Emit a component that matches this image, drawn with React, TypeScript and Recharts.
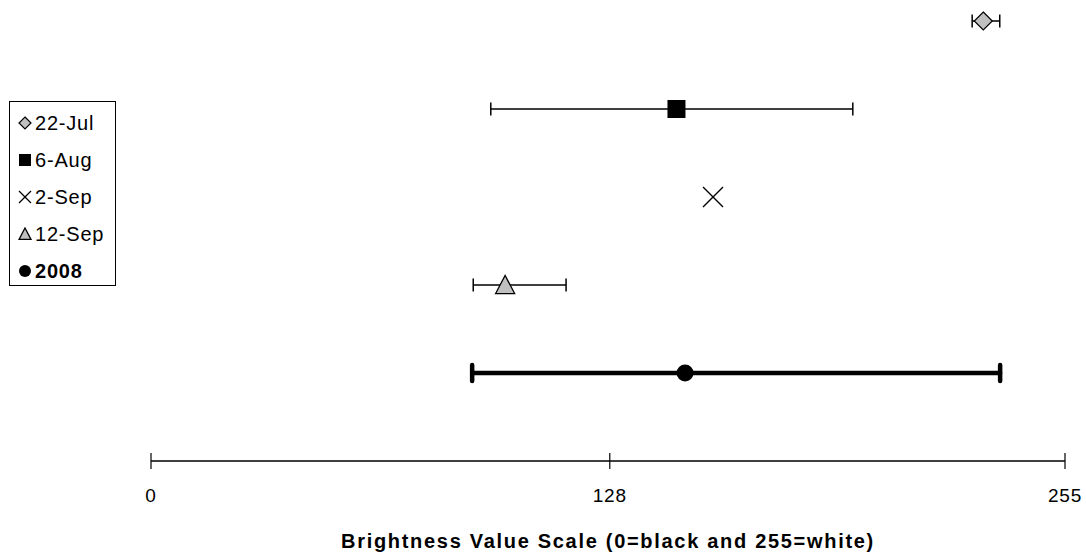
import React from "react";
import { ScatterChart, Scatter, XAxis, YAxis, ErrorBar } from "recharts";

// Brightness readings per sampling date (0 = black, 255 = white)
const seriesNames = ["22-Jul", "6-Aug", "2-Sep", "12-Sep", "2008"];
const rowPos = [5, 4, 3, 2, 1];
const means = [232.2, 146.6, 156.8, 98.8, 149.0];
const lows = [229.1, 94.8, null, 89.9, 89.6];
const highs = [236.8, 195.8, null, 115.8, 236.9];
const xTicks = [0, 128, 255];
const axisTitle = "Brightness Value Scale (0=black and 255=white)";

const FONT = "'Liberation Sans', Arial, sans-serif";

type Marker = "diamond" | "square" | "cross" | "triangle" | "circle";
const markers: Marker[] = ["diamond", "square", "cross", "triangle", "circle"];

function drawMarker(kind: Marker, cx: number, cy: number, s: number) {
  const h = s / 2;
  switch (kind) {
    case "diamond":
      return (
        <polygon
          points={`${cx},${cy - h} ${cx + h},${cy} ${cx},${cy + h} ${cx - h},${cy}`}
          fill="#c0c0c0"
          stroke="#000"
          strokeWidth={1.2}
        />
      );
    case "square":
      return <rect x={cx - h} y={cy - h} width={s} height={s} fill="#000" />;
    case "cross":
      return (
        <g stroke="#000" strokeWidth={1.3}>
          <line x1={cx - h} y1={cy - h} x2={cx + h} y2={cy + h} />
          <line x1={cx - h} y1={cy + h} x2={cx + h} y2={cy - h} />
        </g>
      );
    case "triangle":
      return (
        <polygon
          points={`${cx},${cy - h} ${cx + h},${cy + h * 0.9} ${cx - h},${cy + h * 0.9}`}
          fill="#c0c0c0"
          stroke="#000"
          strokeWidth={1.3}
        />
      );
    default:
      return <circle cx={cx} cy={cy} r={h} fill="#000" />;
  }
}

const sizes = [18, 18, 20, 19, 17];

const seriesData = seriesNames.map((name, i) => [
  {
    x: means[i],
    y: rowPos[i],
    err:
      lows[i] == null
        ? null
        : [means[i] - (lows[i] as number), (highs[i] as number) - means[i]],
  },
]);

const AxisTick = (props: any) => {
  const { x, y, payload } = props;
  return (
    <g>
      <line x1={x} y1={y - 8} x2={x} y2={y + 8} stroke="#000" strokeWidth={1.2} />
      <text
        x={x}
        y={y + 41}
        textAnchor="middle"
        fontFamily={FONT}
        fontSize={19}
        letterSpacing={0.8}
        fill="#000"
      >
        {payload.value}
      </text>
    </g>
  );
};

const AxisTitle = (props: any) => {
  const { viewBox } = props;
  return (
    <text
      x={viewBox.x + viewBox.width / 2}
      y={viewBox.y + 87}
      textAnchor="middle"
      fontFamily={FONT}
      fontSize={20}
      fontWeight="bold"
      letterSpacing={1.7}
      fill="#000"
    >
      {axisTitle}
    </text>
  );
};

function LegendBox() {
  return (
    <div
      style={{
        position: "absolute",
        left: 9,
        top: 101,
        width: 107,
        height: 185,
        border: "1px solid #000",
        background: "#fff",
        fontFamily: FONT,
        fontSize: 20,
        letterSpacing: 0.8,
        boxSizing: "border-box",
      }}
    >
      {seriesNames.map((name, i) => (
        <div
          key={name}
          style={{
            position: "absolute",
            left: 8,
            top: 9 + i * 37,
            display: "flex",
            alignItems: "center",
            height: 24,
            fontWeight: i === 4 ? "bold" : "normal",
          }}
        >
          <svg width={15} height={14} style={{ marginRight: 2 }}>
            {drawMarker(markers[i], 7, 7, 12)}
          </svg>
          <span>{name}</span>
        </div>
      ))}
    </div>
  );
}

export default function App() {
  return (
    <div style={{ position: "absolute", left: 0, top: 0, width: 1086, height: 552, background: "#fff", overflow: "hidden" }}>
      <ScatterChart width={1086} height={552} margin={{ top: 21, right: 21, bottom: 0, left: 151 }}>
        <XAxis
          type="number"
          dataKey="x"
          domain={[0, 255]}
          ticks={xTicks}
          tickLine={false}
          tickSize={0}
          tickMargin={0}
          axisLine={{ stroke: "#000", strokeWidth: 1.5 }}
          tick={<AxisTick />}
          height={91}
          interval={0}
          label={<AxisTitle />}
        />
        <YAxis type="number" dataKey="y" domain={[0, 5]} hide width={0} />
        {seriesNames.map((name, i) => (
          <Scatter
            key={name}
            name={name}
            data={seriesData[i]}
            isAnimationActive={false}
            shape={(p: any) => drawMarker(markers[i], p.cx, p.cy, sizes[i])}
          >
            {lows[i] != null && (
              <ErrorBar
                dataKey="err"
                direction="x"
                width={i === 4 ? 8 : 6.5}
                stroke="#000"
                strokeWidth={i === 4 ? 4.5 : 1.5}
                strokeLinecap={i === 4 ? "round" : "butt"}
              />
            )}
          </Scatter>
        ))}
      </ScatterChart>
      <LegendBox />
    </div>
  );
}
